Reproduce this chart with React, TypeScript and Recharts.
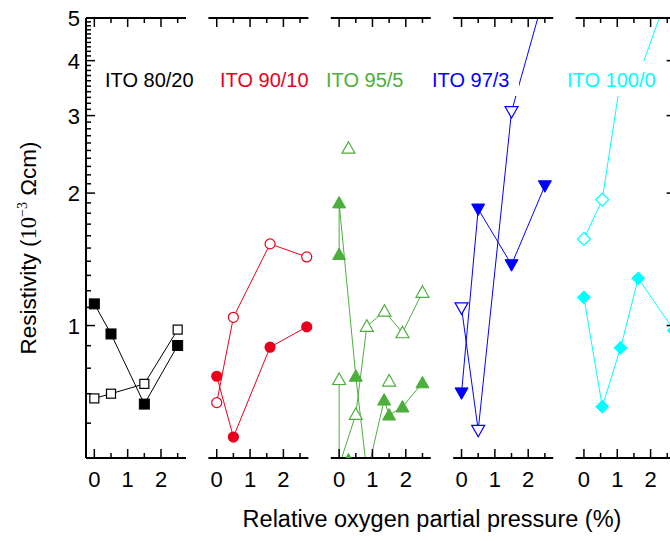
import React from "react";
import { Line, LineChart, XAxis, YAxis } from "recharts";

const FONT = '"Liberation Sans", Arial, Helvetica, sans-serif';
const SERIF = '"Liberation Serif", "Times New Roman", serif';

const BLACK = "#000000";
const RED = "#e8001c";
const GREEN = "#4caf3c";
const BLUE = "#0000ff";
const CYAN = "#00ffff";

// relative oxygen partial pressure (%) -> resistivity (1e-3 ohm cm)
const ito8020Filled = [{ x: 0, y: 1.12 }, { x: 0.5, y: 0.957 }, { x: 1.5, y: 0.663 }, { x: 2.5, y: 0.901 }];
const ito8020Open = [{ x: 0, y: 0.683 }, { x: 0.5, y: 0.7 }, { x: 1.5, y: 0.737 }, { x: 2.5, y: 0.979 }];

const ito9010Filled = [{ x: 0, y: 0.767 }, { x: 0.5, y: 0.558 }, { x: 1.6, y: 0.893 }, { x: 2.7, y: 0.993 }];
const ito9010Open = [{ x: 0, y: 0.668 }, { x: 0.5, y: 1.044 }, { x: 1.6, y: 1.533 }, { x: 2.7, y: 1.432 }];

const ito955Filled = [
  { x: 0, y: 1.45 }, { x: 0, y: 1.9 }, { x: 0.5, y: 0.767 }, { x: 0.84, y: 0.46 },
  { x: 1.35, y: 0.677 }, { x: 1.5, y: 0.626 }, { x: 1.9, y: 0.653 }, { x: 2.5, y: 0.741 },
];
const ito955Open = [
  { x: 0, y: 0.754 }, { x: 0, y: 0.48 }, { x: 0.5, y: 0.628 }, { x: 0.83, y: 0.996 },
  { x: 1.36, y: 1.078 }, { x: 1.9, y: 0.963 }, { x: 2.5, y: 1.19 },
];
const ito955OpenSingles = [{ x: 0.28, y: 2.53 }, { x: 1.5, y: 0.748 }];
const ito955FilledSingles = [{ x: 0.28, y: 0.495 }];

const ito973Filled = [{ x: 0, y: 0.703 }, { x: 0.5, y: 1.84 }, { x: 1.5, y: 1.375 }, { x: 2.5, y: 2.078 }];
const ito973Open = [{ x: 0, y: 1.097 }, { x: 0.5, y: 0.578 }, { x: 1.5, y: 3.064 }, { x: 2.5, y: 5.7 }];

const ito1000Filled = [{ x: 0, y: 1.159 }, { x: 0.55, y: 0.654 }, { x: 1.1, y: 0.89 }, { x: 1.63, y: 1.28 }, { x: 2.7, y: 0.975 }];
const ito1000Open = [{ x: 0, y: 1.573 }, { x: 0.55, y: 1.932 }, { x: 1.1, y: 3.63 }, { x: 1.6, y: 3.63 }, { x: 2.7, y: 6.18 }];

const xTicks = [0, 0.5, 1, 1.5, 2, 2.5];
const xMajor = [0, 1, 2];
const yTicks = [
  0.6, 0.7, 0.8, 0.9, 1, 1.1, 1.2, 1.3, 1.4, 1.5, 1.6, 1.7, 1.8, 1.9, 2,
  2.1, 2.2, 2.3, 2.4, 2.5, 2.6, 2.7, 2.8, 2.9, 3, 3.1, 3.2, 3.3, 3.4, 3.5,
  3.6, 3.7, 3.8, 3.9, 4, 4.1, 4.2, 4.3, 4.4, 4.5, 4.6, 4.7, 4.8, 4.9, 5,
];
const yMajor = [1, 2, 3, 4, 5];

const panelNames = ["ITO 80/20", "ITO 90/10", "ITO 95/5", "ITO 97/3", "ITO 100/0"];

type Shape = "square" | "circle" | "up" | "down" | "diamond";
type Series = { data: { x: number; y: number }[]; color: string; shape: Shape; filled: boolean; noLine?: boolean };

const panels: { left: number; series: Series[] }[] = [
  {
    left: 86,
    series: [
      { data: ito8020Filled, color: BLACK, shape: "square", filled: true },
      { data: ito8020Open, color: BLACK, shape: "square", filled: false },
    ],
  },
  {
    left: 208.4,
    series: [
      { data: ito9010Filled, color: RED, shape: "circle", filled: true },
      { data: ito9010Open, color: RED, shape: "circle", filled: false },
    ],
  },
  {
    left: 330.8,
    series: [
      { data: ito955Open, color: GREEN, shape: "up", filled: false },
      { data: ito955Filled, color: GREEN, shape: "up", filled: true },
      { data: ito955OpenSingles, color: GREEN, shape: "up", filled: false, noLine: true },
      { data: ito955FilledSingles, color: GREEN, shape: "up", filled: true, noLine: true },
    ],
  },
  {
    left: 453.2,
    series: [
      { data: ito973Filled, color: BLUE, shape: "down", filled: true },
      { data: ito973Open, color: BLUE, shape: "down", filled: false },
    ],
  },
  {
    left: 575.6,
    series: [
      { data: ito1000Filled, color: CYAN, shape: "diamond", filled: true },
      { data: ito1000Open, color: CYAN, shape: "diamond", filled: false },
    ],
  },
];

const labelBoxes = [
  { x: 105, w: 88, color: BLACK },
  { x: 220, w: 88, color: RED },
  { x: 326, w: 77, color: GREEN },
  { x: 432, w: 77, color: BLUE },
  { x: 567, w: 87, color: CYAN },
];

function makeDot(shape: Shape, color: string, filled: boolean) {
  return (props: any) => {
    const { cx, cy, index } = props;
    if (cx == null || cy == null) return <g key={index} />;
    const fill = filled ? color : "#ffffff";
    const sw = filled ? 1 : 1.2;
    if (shape === "square") {
      const h = filled ? 5 : 4.5;
      return <rect key={index} x={cx - h} y={cy - h} width={h * 2} height={h * 2} fill={fill} stroke={color} strokeWidth={sw} />;
    }
    if (shape === "up") {
      const pts = `${cx},${cy - 6.5} ${cx + 6.5},${cy + 5} ${cx - 6.5},${cy + 5}`;
      return <polygon key={index} points={pts} fill={fill} stroke={color} strokeWidth={sw} />;
    }
    if (shape === "down") {
      const pts = `${cx},${cy + 6.5} ${cx + 6.5},${cy - 5} ${cx - 6.5},${cy - 5}`;
      return <polygon key={index} points={pts} fill={fill} stroke={color} strokeWidth={sw} />;
    }
    const pts = `${cx},${cy - 6.5} ${cx + 6.5},${cy} ${cx},${cy + 6.5} ${cx - 6.5},${cy}`;
    return <polygon key={index} points={pts} fill={fill} stroke={color} strokeWidth={sw} />;
  };
}

const BottomTick = (props: any) => {
  const { x, y, payload } = props;
  const major = xMajor.includes(payload.value);
  return (
    <g>
      <line x1={x} x2={x} y1={y} y2={y - (major ? 9 : 5)} stroke="#000" strokeWidth={1.5} />
      {major && (
        <text x={x} y={y + 29} textAnchor="middle" fontSize={22} fontFamily={FONT} fill="#000">
          {payload.value}
        </text>
      )}
    </g>
  );
};

const TopTick = (props: any) => {
  const { x, y, payload } = props;
  const major = xMajor.includes(payload.value);
  return <line x1={x} x2={x} y1={y} y2={y + (major ? 9 : 5)} stroke="#000" strokeWidth={1.5} />;
};

const LeftTick = (props: any) => {
  const { x, y, payload } = props;
  const major = yMajor.includes(payload.value);
  return (
    <g>
      <line x1={x} x2={x + (major ? 9 : 5)} y1={y} y2={y} stroke="#000" strokeWidth={1.5} />
      {major && (
        <text x={x - 6} y={y + 8} textAnchor="end" fontSize={22} fontFamily={FONT} fill="#000">
          {payload.value}
        </text>
      )}
    </g>
  );
};

const RightTick = (props: any) => {
  const { x, y, payload } = props;
  const major = yMajor.includes(payload.value);
  return <line x1={x} x2={x - (major ? 9 : 5)} y1={y} y2={y} stroke="#000" strokeWidth={1.5} />;
};

const axisLine = { stroke: "#000", strokeWidth: 2 };

function Panel({ index }: { index: number }) {
  const p = panels[index];
  const W = 700;
  const plotW = 100;
  // axes are 1px thick boxes so that the plot area sits exactly on the axis lines
  const left = index === 0 ? p.left - 1 : p.left;
  const right = W - p.left - plotW - (index === 4 ? 1 : 0);
  return (
    <div style={{ position: "absolute", left: 0, top: 0 }}>
      <LineChart width={W} height={541} margin={{ top: 17, bottom: 82, left, right }}>
        <XAxis
          type="number"
          dataKey="x"
          domain={[-0.25, 2.75]}
          allowDataOverflow
          ticks={xTicks}
          interval={0}
          height={1}
          tickSize={0}
          tickMargin={0}
          tickLine={false}
          axisLine={axisLine}
          tick={<BottomTick />}
        />
        <XAxis
          xAxisId="top"
          orientation="top"
          type="number"
          dataKey="x"
          domain={[-0.25, 2.75]}
          allowDataOverflow
          ticks={xTicks}
          interval={0}
          height={1}
          tickSize={0}
          tickMargin={0}
          tickLine={false}
          axisLine={axisLine}
          tick={<TopTick />}
        />
        <YAxis
          type="number"
          scale="log"
          domain={[0.5, 5]}
          allowDataOverflow
          ticks={yTicks}
          interval={0}
          width={1}
          hide={index !== 0}
          tickSize={0}
          tickMargin={0}
          tickLine={false}
          axisLine={axisLine}
          tick={<LeftTick />}
        />
        {index === 4 && (
          <YAxis
            yAxisId="right"
            orientation="right"
            type="number"
            scale="log"
            domain={[0.5, 5]}
            allowDataOverflow
            ticks={yTicks}
            interval={0}
            width={1}
            tickSize={0}
            tickMargin={0}
            tickLine={false}
            axisLine={axisLine}
            tick={<RightTick />}
          />
        )}
        {p.series.map((s, i) => (
          <Line
            key={i}
            data={s.data}
            dataKey="y"
            stroke={s.noLine ? "none" : s.color}
            strokeWidth={1}
            activeDot={false}
            isAnimationActive={false}
            dot={
              s.shape === "circle"
                ? { clipDot: false, r: 5, fill: s.filled ? s.color : "#ffffff", stroke: s.color, strokeWidth: 1.2 }
                : makeDot(s.shape, s.color, s.filled)
            }
          />
        ))}
      </LineChart>
    </div>
  );
}

export default function App() {
  return (
    <div style={{ position: "fixed", left: 0, top: 0, width: 670, height: 541, background: "#fff", overflow: "hidden" }}>
      {panels.map((_, i) => (
        <Panel key={i} index={i} />
      ))}
      <svg width={670} height={541} style={{ position: "absolute", left: 0, top: 0, pointerEvents: "none" }}>
        {labelBoxes.map((b, i) => (
          <g key={i}>
            <rect x={b.x - 10} y={61} width={b.w + 20} height={35} fill="#fff" />
            <text x={b.x} y={87} fontSize={20} fontFamily={FONT} fill={b.color}>
              {panelNames[i]}
            </text>
          </g>
        ))}
        <text transform="translate(36,248) rotate(-90)" textAnchor="middle" fontSize={22.5} fontFamily={FONT} fill="#000">
          Resistivity (<tspan fontFamily={SERIF}>10</tspan>
          <tspan dy={-9} fontSize={14} fontFamily={SERIF}>
            −3
          </tspan>
          <tspan dy={9}> Ωcm)</tspan>
        </text>
        <text x={432} y={527} textAnchor="middle" fontSize={23.5} fontFamily={FONT} fill="#000">
          Relative oxygen partial pressure (%)
        </text>
      </svg>
    </div>
  );
}
